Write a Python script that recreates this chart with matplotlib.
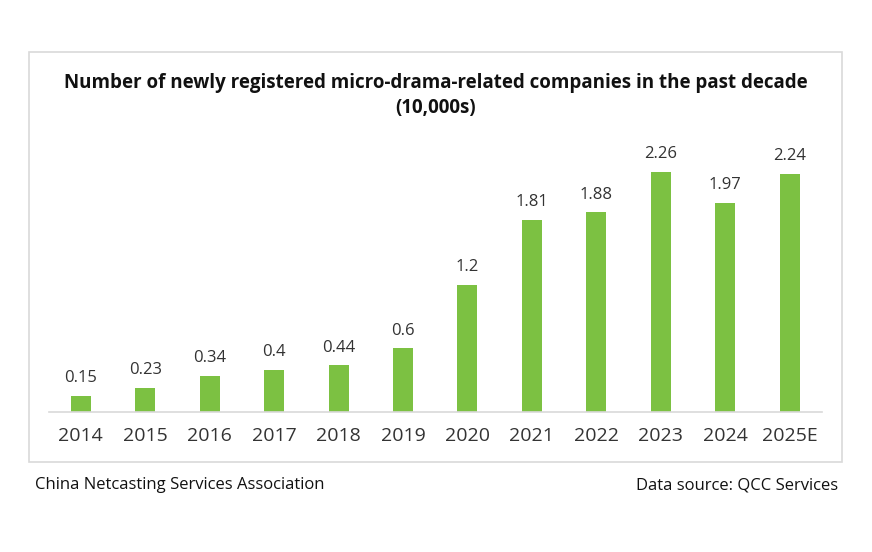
import matplotlib
matplotlib.use("Agg")
import matplotlib.pyplot as plt
from matplotlib.patches import Rectangle

years = ["2014", "2015", "2016", "2017", "2018", "2019", "2020", "2021", "2022", "2023", "2024", "2025E"]
values = [0.15, 0.23, 0.34, 0.4, 0.44, 0.6, 1.2, 1.81, 1.88, 2.26, 1.97, 2.24]
labels = ["0.15", "0.23", "0.34", "0.4", "0.44", "0.6", "1.2", "1.81", "1.88", "2.26", "1.97", "2.24"]

W, H = 872, 552
fig = plt.figure(figsize=(W / 100, H / 100), dpi=100)
fig.patch.set_facecolor("white")

def fx(px):
    return px / W

def fy(py):
    return 1 - py / H

# border box
fig.patches.append(Rectangle((fx(29), fy(462)), fx(842) - fx(29), fy(52) - fy(462),
                             transform=fig.transFigure, fill=False, edgecolor="#d9d9d9", linewidth=1.2))

ax = fig.add_axes([fx(48.5), fy(412), fx(822) - fx(48.5), fy(140) - fy(412)])
x = list(range(len(years)))
ax.bar(x, values, width=0.31, color="#7cc142", zorder=2)
ax.set_xlim(-0.5, len(years) - 0.5)
ax.set_ylim(0, 2.56)
for i, (v, lab) in enumerate(zip(values, labels)):
    ax.annotate(lab, (i, v), xytext=(0, 7), textcoords="offset points", ha="center", va="bottom",
                fontsize=12, color="#333333", family="Open Sans")
ax.set_xticks(x)
ax.set_xticklabels(years, fontsize=14, color="#333333", family="Open Sans")
ax.tick_params(axis="x", length=0, pad=11)
ax.set_yticks([])
for s in ["top", "right", "left"]:
    ax.spines[s].set_visible(False)
ax.spines["bottom"].set_color("#d9d9d9")
ax.spines["bottom"].set_linewidth(1.2)
ax.set_facecolor("none")

fig.text(fx(436), fy(83), "Number of newly registered micro-drama-related companies in the past decade",
         ha="center", va="center", fontsize=13.5, fontweight="bold", family="Open Sans", color="#111111")
fig.text(fx(436), fy(108), "(10,000s)", ha="center", va="center", fontsize=13.5, fontweight="bold",
         family="Open Sans", color="#111111")

fig.text(fx(35), fy(485), "China Netcasting Services Association", ha="left", va="center",
         fontsize=12, family="Open Sans", color="#111111")
fig.text(fx(838), fy(485), "Data source: QCC Services", ha="right", va="center",
         fontsize=12, family="Open Sans", color="#111111")

fig.savefig("out.png", dpi=100, facecolor="white")
